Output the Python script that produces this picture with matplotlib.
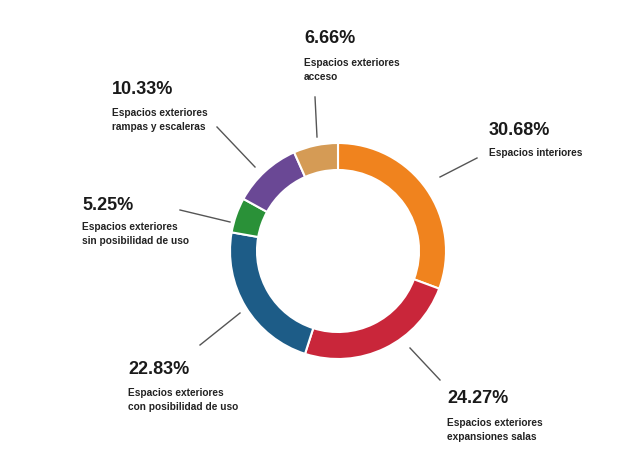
import matplotlib.pyplot as plt

# datos del gráfico (porcentaje de superficie)
etiquetas = ['Espacios interiores',
             'Espacios exteriores\nexpansiones salas',
             'Espacios exteriores\ncon posibilidad de uso',
             'Espacios exteriores\nsin posibilidad de uso',
             'Espacios exteriores\nrampas y escaleras',
             'Espacios exteriores\nacceso']
valores = [30.68, 24.27, 22.83, 5.25, 10.33, 6.66]
colores = ['#f0831e', '#c9263a', '#1d5c87', '#2a9138', '#6a4895', '#d59b55']

# posiciones de los textos (pixeles, origen arriba a la izquierda)
pos_pct = [(489, 130.5), (447, 398.5), (128, 370), (82, 206), (112, 90), (304, 38.5)]
pos_lbl = [(489, 153), (447, 429.5), (128, 399.5), (82, 234.5), (112, 120), (304, 70.5)]
lineas = [((440, 177), (477, 158)), ((410, 348), (440, 380)), ((240, 313), (200, 345)),
          ((230, 222), (180, 210)), ((255, 167), (217, 127)), ((317, 137), (315, 97))]

W, H = 630, 468
fig = plt.figure(figsize=(W / 100, H / 100), dpi=100)
ax = fig.add_axes([0, 0, 1, 1])

ax.pie(valores, colors=colores, startangle=90, counterclock=False,
       radius=108, center=(338, H - 251),
       wedgeprops=dict(width=27, edgecolor='white', linewidth=1.5))

ax.set_xlim(0, W)
ax.set_ylim(0, H)
ax.set_aspect('equal')
ax.axis('off')

for v, lbl, (px, py), (lx, ly), (a, b) in zip(valores, etiquetas, pos_pct, pos_lbl, lineas):
    ax.text(px, H - py, f'{v:.2f}%', fontsize=13, fontweight='bold', family='Liberation Sans',
            color='#1a1a1a', ha='left', va='center')
    ax.text(lx, H - ly, lbl, fontsize=7.3, fontweight='bold', family='Liberation Sans',
            color='#222222', ha='left', va='center', linespacing=1.5)
    ax.plot([a[0], b[0]], [H - a[1], H - b[1]], color='#555555', lw=1)

plt.savefig('out.png', dpi=100)
